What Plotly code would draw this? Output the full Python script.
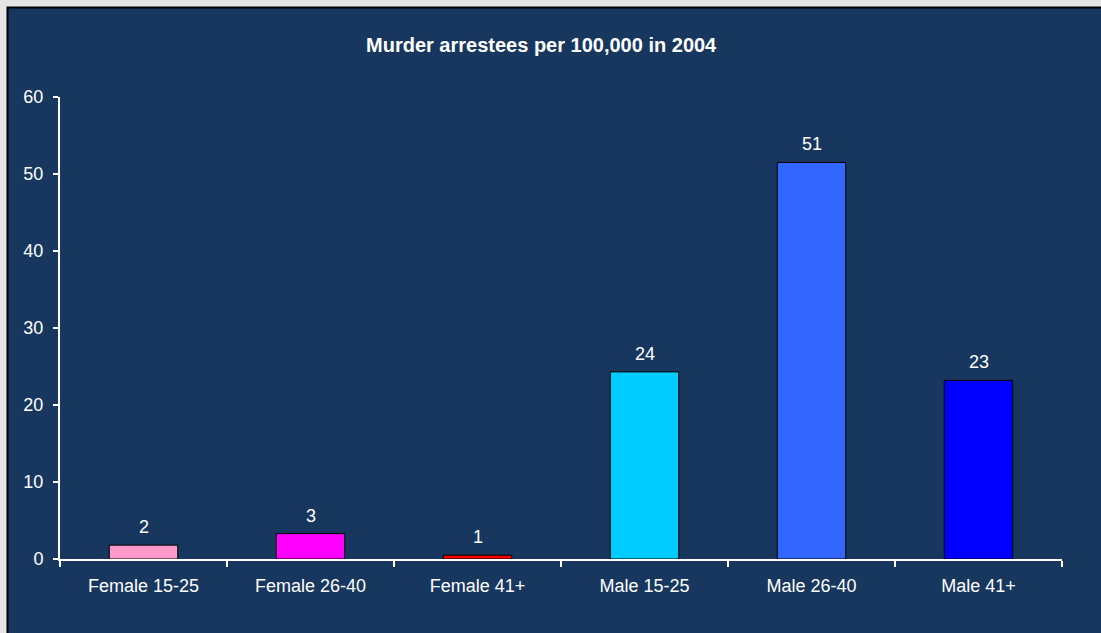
import plotly.graph_objects as go

categories = ["Female 15-25", "Female 26-40", "Female 41+", "Male 15-25", "Male 26-40", "Male 41+"]
values = [1.8, 3.3, 0.5, 24.3, 51.5, 23.2]
labels = ["2", "3", "1", "24", "51", "23"]
colors = ["#FF99CC", "#FF00FF", "#FF0000", "#00CCFF", "#3366FF", "#0000FF"]
y_ticks = [0, 10, 20, 30, 40, 50, 60]

W, H = 1101, 633
ml, mr, mt, mb = 60, 39, 97, 74
pw, ph = W - ml - mr, H - mt - mb

def px_x(p):
    return (p - ml) / pw

def px_y(p):
    return 1 - (p - mt) / ph

fig = go.Figure(go.Bar(
    x=categories, y=values,
    marker=dict(color=colors, line=dict(color="#000000", width=1)),
    cliponaxis=False,
))

for c, v, t in zip(categories, values, labels):
    fig.add_annotation(x=c, y=v, text=t, showarrow=False, yanchor="bottom", yshift=6,
                       font=dict(color="white", size=18, family="Liberation Sans, Arial"))

fig.update_layout(
    width=W, height=H,
    margin=dict(l=ml, r=mr, t=mt, b=mb, pad=0),
    paper_bgcolor="#E4E4E4",
    plot_bgcolor="#17375E",
    bargap=0.59,
    showlegend=False,
    font=dict(family="Liberation Sans, Arial", color="white", size=18),
    title=dict(text="<b>Murder arrestees per 100,000 in 2004</b>", x=0.4915, xanchor="center",
               y=1 - 45 / H, yanchor="middle", font=dict(size=20, color="white")),
    shapes=[dict(type="rect", xref="paper", yref="paper", layer="below",
                 x0=px_x(7.5), x1=px_x(W + 20), y0=px_y(H + 20), y1=px_y(7.5),
                 fillcolor="#17375E", line=dict(color="#000000", width=2))],
)

fig.update_xaxes(
    showline=True, linecolor="white", linewidth=2,
    ticks="outside", tickson="boundaries", ticklen=6, tickcolor="white", tickwidth=2,
    showgrid=False, tickfont=dict(size=18, color="white"), ticklabelstandoff=9,
)
fig.update_yaxes(
    range=[0, 60], tickvals=y_ticks, showline=True, linecolor="white", linewidth=2,
    ticks="outside", ticklen=5, tickcolor="white", tickwidth=2, showgrid=False,
    zeroline=False, tickfont=dict(size=18, color="white"), ticklabelstandoff=6,
)

fig.write_html("out.html")
